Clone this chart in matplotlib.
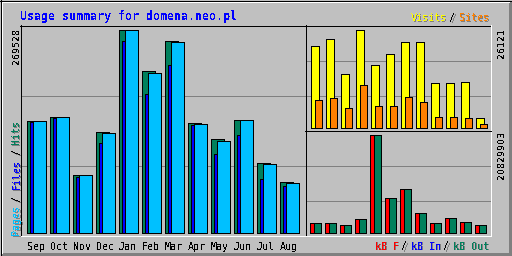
import matplotlib
matplotlib.use("Agg")
import matplotlib.pyplot as plt

# monthly values
months = ["Sep", "Oct", "Nov", "Dec", "Jan", "Feb", "Mar", "Apr", "May", "Jun", "Jul", "Aug"]
hits = [148700, 154000, 77000, 132800, 269528, 213800, 253600, 146000, 123500, 150000, 92900, 66400]
files = [146400, 152300, 73900, 119100, 253600, 184500, 223000, 142100, 104500, 130100, 71300, 62000]
pages = [147400, 153500, 76500, 132000, 268900, 212400, 252300, 144700, 122100, 149800, 91600, 66200]
visits = [21590, 23460, 14390, 26121, 16530, 19720, 22660, 22920, 11730, 11730, 12260, 2400]
sites = [7200, 7730, 5330, 11460, 5600, 5600, 8000, 6930, 2930, 2670, 2400, 800]
kb_f = [1913000, 1913000, 1488000, 2830000, 20829903, 7227000, 9352000, 4251000, 1913000, 2976000, 2338000, 1488000]
kb_in = [0, 0, 0, 0, 0, 0, 0, 0, 0, 0, 0, 0]
kb_out = [1913000, 1913000, 1488000, 2830000, 20829903, 7227000, 9352000, 4251000, 1913000, 2976000, 2338000, 1488000]

GREY = "#C0C0C0"
DKGREY = "#808080"
C_HITS = "#00805C"
C_FILES = "#0000FF"
C_PAGES = "#00C0FF"
C_VISITS = "#FFFF00"
C_SITES = "#FF8000"
C_KBF = "#FF0000"
C_KBIN = "#0000FF"
C_KBOUT = "#00805C"

W, H = 512, 256
LW = 0.72  # one pixel at 100 dpi
MONO = "DejaVu Sans Mono"
SMALL = 7.2
plt.rcParams["text.antialiased"] = False

fig = plt.figure(figsize=(W / 100, H / 100), dpi=100)
fig.patch.set_facecolor(GREY)

bg = fig.add_axes([0, 0, 1, 1])
bg.set_xlim(0, W)
bg.set_ylim(H, 0)
bg.axis("off")


def hline(y, x0, x1, c):
    bg.plot([x0, x1 + 1], [y + 0.5, y + 0.5], color=c, lw=LW,
            solid_capstyle="butt", antialiased=False)


def vline(x, y0, y1, c):
    bg.plot([x + 0.5, x + 0.5], [y0, y1 + 1], color=c, lw=LW,
            solid_capstyle="butt", antialiased=False)


# 3d frame
hline(1, 1, 510, "white")
vline(1, 1, 254, "white")
for k in range(3):
    hline(254 - k, 1 + k, 510, DKGREY)
    vline(510 - k, 1 + k, 254, DKGREY)
hline(0, 0, 511, "black")
hline(255, 0, 511, "black")
vline(0, 0, 255, "black")
vline(511, 0, 255, "black")

# grid lines
for y in (95, 165):
    hline(y, 21, 304, DKGREY)
for y in (60, 95, 165, 200):
    hline(y, 306, 489, DKGREY)

# panel borders (black top/left, white bottom/right)
hline(25, 20, 305, "black")
vline(20, 25, 235, "black")
hline(235, 20, 305, "white")
hline(25, 305, 490, "black")
vline(305, 25, 235, "black")
vline(490, 25, 235, "white")
hline(130, 305, 490, "black")
hline(235, 305, 490, "white")


def panel(x0, y0, x1, y1, base, top, maxval):
    ax = fig.add_axes([x0 / W, 1 - y1 / H, (x1 - x0) / W, (y1 - y0) / H])
    s = maxval / (base - top)
    ax.set_xlim(x0, x1)
    ax.set_ylim(-(y1 - base - 0.5) * s, maxval + (top + 0.5 - y0) * s)
    ax.axis("off")
    ax.patch.set_visible(False)
    return ax


def bars(ax, x0, step, width, vals, color):
    xs = [x0 + 0.5 + step * i for i, v in enumerate(vals) if v > 0]
    vs = [v for v in vals if v > 0]
    ax.bar(xs, vs, width=width, align="edge", color=color,
           edgecolor="black", linewidth=LW, antialiased=False)


ax1 = panel(20, 25, 305, 235, 232, 29, max(hits))
bars(ax1, 26, 23, 13, hits, C_HITS)
bars(ax1, 29, 23, 13, files, C_FILES)
bars(ax1, 32, 23, 13, pages, C_PAGES)

ax2 = panel(305, 25, 490, 130, 127, 29, max(visits))
bars(ax2, 310, 15, 8, visits, C_VISITS)
bars(ax2, 314, 15, 7, sites, C_SITES)

ax3 = panel(305, 130, 490, 235, 232, 134, max(kb_f))
bars(ax3, 309, 15, 8, kb_f, C_KBF)
bars(ax3, 311, 15, 8, kb_in, C_KBIN)
bars(ax3, 313, 15, 7, kb_out, C_KBOUT)


def label(x, y, s, c, rot=0, ha="left", shadow=False, family=MONO, size=SMALL, **kw):
    if shadow:
        bg.text(x + 1, y + 1, s, color=DKGREY, rotation=rot, rotation_mode="anchor",
                ha=ha, va="baseline", family=family, fontsize=size, **kw)
    bg.text(x, y, s, color=c, rotation=rot, rotation_mode="anchor",
            ha=ha, va="baseline", family=family, fontsize=size, **kw)


# title
bg.text(20, 20, "Usage summary for domena.neo.pl", color="#0000FF", family=MONO,
        fontsize=8.4, fontweight="bold", ha="left", va="baseline")

# month labels
for i, m in enumerate(months):
    label(36 + 23 * i, 249.5, m, "black", ha="center")

# max values (plain zeros, so not the mono face)
label(19.5, 28, str(max(hits)), "black", rot=90, ha="right", family="DejaVu Sans", size=6.8)
label(504.5, 28, str(max(visits)), "black", rot=90, ha="right", family="DejaVu Sans", size=6.8)
label(504.5, 131, str(max(kb_f)), "black", rot=90, ha="right", family="DejaVu Sans", size=6.8)

# legends
label(411, 21, "Visits", C_VISITS, shadow=True)
label(450, 21, "/", "black", shadow=True)
label(459, 21, "Sites", C_SITES, shadow=True)

label(375, 249.5, "kB F", C_KBF, shadow=True)
label(402, 249.5, "/", "black", shadow=True)
label(411, 249.5, "kB In", C_KBIN, shadow=True)
label(444, 249.5, "/", "black", shadow=True)
label(453, 249.5, "kB Out", C_KBOUT, shadow=True)

label(19.5, 235, "Pages", C_PAGES, rot=90, shadow=True)
label(19.5, 201, "/", "black", rot=90, shadow=True)
label(19.5, 189, "Files", C_FILES, rot=90, shadow=True)
label(19.5, 154, "/", "black", rot=90, shadow=True)
label(19.5, 144, "Hits", C_HITS, rot=90, shadow=True)

fig.savefig("out.png", dpi=100, facecolor=GREY)
